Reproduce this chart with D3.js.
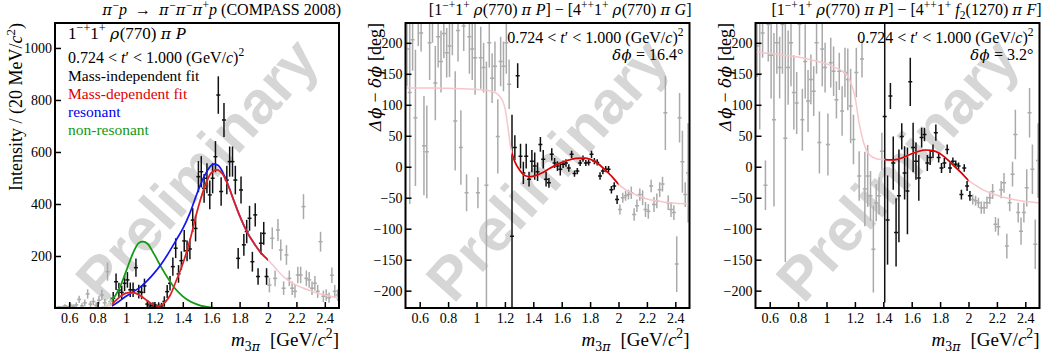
<!doctype html>
<html>
<head>
<meta charset="utf-8">
<script src="https://cdnjs.cloudflare.com/ajax/libs/d3/7.8.5/d3.min.js"></script>
<style>
  body { margin: 0; background: #fff; }
  svg { font-family: "Liberation Serif", "Times New Roman", serif; }
  text { white-space: pre; fill: #000; }
  .tick text { font-size: 14px; font-family: "Liberation Serif", serif; }
  .tick line { stroke: #000; stroke-width: 1.5; }
  .watermark { font-family: "Liberation Sans", Arial, sans-serif; font-weight: bold; fill: #d6d6d6; }
</style>
</head>
<body>
<svg width="1057" height="355"></svg>
<script>
// ---- data: [mass, value, error] ----
var intensityPoints = [
  [0.51,2,3],[0.53,4,4],[0.55,3,4],[0.57,8,6],[0.59,4,5],[0.61,10,8],[0.63,6,8],[0.65,12,10],[0.67,33,14],[0.69,8,10],
  [0.71,20,13],[0.73,54,18],[0.75,15,12],[0.77,25,15],[0.79,10,12],[0.81,30,16],[0.83,50,20],[0.85,20,15],[0.87,140,35],[0.89,25,18],
  [0.91,37,25],[0.93,101,32],[0.95,69,28],[0.97,60,26],[0.99,95,30],[1.01,108,30],[1.03,70,28],[1.05,70,28],[1.07,155,35],[1.09,63,26],
  [1.11,60,26],[1.13,85,28],[1.15,15,15],[1.17,8,12],[1.19,10,12],[1.21,5,10],[1.23,10,12],[1.25,8,12],[1.27,25,20],[1.29,63,25],
  [1.31,95,28],[1.33,159,35],[1.35,230,38],[1.37,131,34],[1.39,182,36],[1.41,258,42],[1.43,220,40],[1.45,227,40],[1.47,338,46],[1.49,306,50],
  [1.51,505,60],[1.53,524,60],[1.55,460,55],[1.57,499,58],[1.59,435,55],[1.61,499,58],[1.63,582,60],[1.65,819,72],[1.67,448,55],[1.69,723,65],
  [1.71,492,55],[1.73,563,58],[1.75,563,58],[1.77,492,55],[1.79,191,40],[1.81,454,52],[1.83,243,42],[1.85,294,45],[1.87,345,48],[1.89,178,38],
  [1.91,358,45],[1.93,121,32],[1.95,249,42],[1.97,287,44],[1.99,121,32],
  [2.01,88,28],[2.03,268,42],[2.05,114,30],[2.07,300,42],[2.09,223,40],[2.11,76,26],[2.13,204,38],[2.15,114,30],[2.17,76,26],[2.19,64,25],
  [2.21,127,32],[2.23,127,32],[2.25,390,48],[2.27,114,30],[2.29,108,30],[2.31,76,26],[2.33,95,28],[2.35,64,25],[2.37,255,38],[2.39,45,22],
  [2.41,50,22],[2.43,40,20],[2.45,126,30],[2.47,64,25],[2.49,50,22]
];

var phaseGPoints = [
  [0.51,190,60],[0.53,120,180],[0.55,205,50],[0.57,79,110],[0.59,245,50],[0.61,216,30],[0.63,34,80],[0.65,24,75],[0.67,200,60],[0.69,240,40],
  [0.71,135,60],[0.73,210,50],[0.75,170,50],[0.77,215,40],[0.79,184,40],[0.81,195,50],[0.83,240,60],[0.85,74,80],[0.87,220,50],[0.89,31,60],
  [0.91,227,40],[0.93,-42,30],[0.95,210,60],[0.97,190,50],[0.99,176,60],[1.01,-42,25],[1.03,176,50],[1.05,160,40],[1.07,-30,200],[1.09,200,40],
  [1.11,143,40],[1.13,162,40],[1.15,49,60],[1.17,170,40],[1.19,162,40],[1.21,200,50],[1.23,133,40],
  [1.25,-112,196],[1.27,31,20],[1.29,147,20],[1.31,17,20],[1.33,-10,18],[1.35,17,20],[1.37,-20,12],[1.39,9,18],[1.41,1,22],[1.43,-8,15],
  [1.45,36,12],[1.47,12,15],[1.49,-20,12],[1.51,-26,8],[1.53,20,10],[1.55,6,8],[1.57,1,8],[1.59,-4,10],[1.61,4,6],[1.63,6,6],
  [1.65,-2,6],[1.67,20,6],[1.69,-11,5],[1.71,-7,5],[1.73,6,5],[1.75,13,5],[1.77,6,5],[1.79,7,5],[1.81,20,6],[1.83,9,5],
  [1.85,7,5],[1.87,-15,6],[1.89,-7,5],[1.91,-4,5],[1.93,-4,5],[1.95,-37,6],[1.97,-31,6],[1.99,-53,7],
  [2.01,-69,8],[2.03,-50,8],[2.05,-47,8],[2.07,-45,8],[2.09,-42,10],[2.11,-77,10],[2.13,-63,10],[2.15,-45,10],[2.17,-50,12],[2.19,-69,12],
  [2.21,-72,12],[2.23,-31,10],[2.25,-61,12],[2.27,-55,12],[2.29,-37,12],[2.31,-28,12],[2.33,87,60],[2.35,-58,12],[2.37,-69,12],[2.39,-74,12],
  [2.41,-157,45],[2.43,79,40],[2.45,8,50],[2.47,-45,20],[2.49,-10,80]
];

var phaseFPoints = [
  [0.51,195,50],[0.53,150,90],[0.55,216,40],[0.57,-30,40],[0.59,230,60],[0.61,180,70],[0.63,76,140],[0.65,200,50],[0.67,160,50],[0.69,230,80],
  [0.71,46,200],[0.73,160,60],[0.75,200,70],[0.77,120,60],[0.79,103,50],[0.81,230,50],[0.83,76,50],[0.85,170,60],[0.87,106,50],[0.89,141,40],
  [0.91,122,40],[0.93,200,50],[0.95,39,50],[0.97,190,60],[0.99,160,40],[1.01,36,50],[1.03,168,40],[1.05,154,40],[1.07,108,30],[1.09,154,30],
  [1.11,90,40],[1.13,152,40],[1.15,141,50],[1.17,98,60],[1.19,44,40],[1.21,152,40],[1.23,-15,40],[1.25,174,30],[1.27,-36,60],[1.29,-15,50],
  [1.31,-47,40],[1.33,-133,70],[1.35,-58,30],[1.37,-47,30],[1.39,25,30],
  [1.41,81,300],[1.43,-86,72],[1.45,114,21],[1.47,6,43],[1.49,-106,55],[1.51,-47,75],[1.53,49,21],[1.55,-10,43],[1.57,-39,70],[1.59,137,39],
  [1.61,31,40],[1.63,9,30],[1.65,-18,37],[1.67,47,16],[1.69,52,11],[1.71,6,13],[1.73,15,12],[1.75,25,11],[1.77,55,13],[1.79,15,8],
  [1.81,-2,8],[1.83,6,8],[1.85,28,8],[1.87,-2,8],[1.89,9,6],[1.91,4,6],[1.93,1,6],[1.95,-45,8],[1.97,-2,6],[1.99,-31,8],[2.01,-47,8],
  [2.03,-53,8],[2.05,-55,8],[2.07,-58,8],[2.09,-66,10],[2.11,-66,10],[2.13,-58,10],[2.15,-50,10],[2.17,-40,12],[2.19,-93,12],[2.21,-97,14],
  [2.23,-37,14],[2.25,-26,16],[2.27,-128,20],[2.29,-58,14],[2.31,-12,20],[2.33,52,40],[2.35,-74,16],[2.37,-104,22],[2.39,-74,16],[2.41,-34,30],
  [2.43,87,40],[2.45,-4,40],[2.47,-125,40],[2.49,10,60]
];

// ---- fit curves: [mass, value] ----
var intensityTotal = [[0.82,1],[0.86,5],[0.90,15],[0.95,40],[1.00,57],[1.04,60],[1.10,48],[1.15,28],[1.20,10],[1.23,7],[1.27,20],
  [1.31,48],[1.35,100],[1.40,170],[1.45,260],[1.50,370],[1.55,460],[1.60,520],[1.64,531],[1.68,515],[1.72,470],[1.76,412],
  [1.80,355],[1.85,295],[1.90,250],[1.95,212],[2.00,185],[2.05,155],[2.10,125],[2.15,103],[2.20,88],[2.25,76],[2.30,66],
  [2.35,57],[2.40,50],[2.45,44],[2.50,38]];
var intensityResonant = [[0.90,8],[0.95,25],[1.00,45],[1.05,62],[1.10,80],[1.15,105],[1.20,135],[1.25,170],[1.30,212],[1.35,258],
  [1.40,305],[1.45,365],[1.50,440],[1.55,505],[1.60,548],[1.62,553],[1.65,548],[1.70,500],[1.76,412],[1.80,355],[1.85,295],
  [1.90,250],[1.95,212],[2.00,185]];
var intensityNonResonant = [[0.78,0],[0.82,2],[0.86,10],[0.90,30],[0.95,72],[1.00,140],[1.05,212],[1.09,250],[1.12,255],[1.15,248],
  [1.20,205],[1.25,155],[1.30,110],[1.35,72],[1.40,45],[1.45,26],[1.50,14],[1.55,6],[1.60,2],[1.65,0.5],[1.80,0],[2.00,0]];
var phaseGFit = [[0.50,127],[0.60,127],[0.70,127],[0.80,126.5],[0.90,126],[1.00,125],[1.05,124],[1.10,122],[1.15,117],[1.18,108],
  [1.20,95],[1.22,66],[1.24,32],[1.25,22],[1.27,8],[1.30,-4],[1.34,-14],[1.38,-16],[1.42,-14],[1.46,-10],[1.52,-2],[1.58,5],
  [1.64,10],[1.70,13.5],[1.76,14],[1.80,12],[1.85,6],[1.90,-4],[1.95,-15],[2.00,-28],[2.05,-37],[2.10,-43],[2.15,-48],
  [2.20,-52],[2.30,-56],[2.40,-59],[2.50,-60]];
var phaseFFit = [[0.50,185],[0.60,183],[0.70,180],[0.80,177],[0.90,172],[1.00,166],[1.05,161],[1.10,156],[1.15,146],[1.18,130],
  [1.20,114],[1.23,70],[1.26,40],[1.30,20],[1.35,13],[1.41,11.5],[1.45,11],[1.50,12],[1.55,16],[1.60,21],[1.65,25],[1.70,27],
  [1.75,26],[1.80,21],[1.85,12],[1.90,1],[1.95,-10],[2.00,-22],[2.05,-30],[2.10,-37],[2.15,-42],[2.20,-46],[2.30,-52],
  [2.40,-56],[2.50,-58]];

// ---- labels ("i" italic, "g" greek font, "^" superscript, "_" subscript) ----
var waveP = ["1", ["\u2212+", "^"], "1", ["+", "^"], " ", ["\u03c1", "ig"], "(770) ", ["\u03c0", "ig"], " ", ["P", "i"]];
var tRange = ["0.724 < ", ["t", "i"], "\u2032 < 1.000 (GeV/", ["c", "i"], ")", ["2", "^"]];
var titles = [
  [["\u03c0", "ig"], ["\u2212", "^"], ["p", "i"], "  \u2192  ", ["\u03c0", "ig"], ["\u2212", "^"], ["\u03c0", "ig"], ["\u2212", "^"],
   ["\u03c0", "ig"], ["+", "^"], ["p", "i"], " (COMPASS 2008)"],
  ["["].concat(waveP, ["] \u2212 [4", ["++", "^"], "1", ["+", "^"], " ", ["\u03c1", "ig"], "(770) ", ["\u03c0", "ig"], " ", ["G", "i"], "]"]),
  ["["].concat(waveP, ["] \u2212 [4", ["++", "^"], "1", ["+", "^"], " ", ["f", "i"], ["2", "_"], "(1270) ", ["\u03c0", "ig"], " ", ["F", "i"], "]"])
];
var legendLabels = ["Mass-independent fit", "Mass-dependent fit", "resonant", "non-resonant"];
var legendColors = ["#000", "#e00000", "#0000ee", "#119911"];
var phaseOffsets = ["16.4", "3.2"];

var frameTop = 23, frameBottom = 308, frameW = 284;
var svg = d3.select("svg");

// text with italic / super / subscript pieces
function rich(g, parts, size) {
  var t = g.append("text").style("font-size", size + "px");
  var shift = 0;
  parts.forEach(function(p) {
    var str = typeof p === "string" ? p : p[0];
    var fmt = typeof p === "string" ? "" : p[1];
    var s = t.append("tspan").text(str);
    var target = 0, fs = size;
    if (fmt.indexOf("^") >= 0) { target = -0.4 * size; fs = size * 0.72; }
    if (fmt.indexOf("_") >= 0) { target = 0.25 * size; fs = size * 0.72; }
    if (fmt.indexOf("i") >= 0) s.style("font-style", "italic");
    if (fmt.indexOf("g") >= 0) s.style("font-family", "'DejaVu Serif', serif").style("letter-spacing", "0.5px");
    s.style("font-size", (fmt.indexOf("g") >= 0 ? fs * 0.92 : fs) + "px");
    if (target !== shift) { s.attr("dy", target - shift); shift = target; }
  });
  return t;
}

function drawPanel(cfg) {
  var x = d3.scaleLinear().domain([0.5, 2.5]).range([cfg.left, cfg.left + frameW]);
  var y = d3.scaleLinear().domain(cfg.yDomain).range([frameBottom, frameTop]);
  var g = svg.append("g");

  g.append("clipPath").attr("id", "clip" + cfg.id).append("rect")
    .attr("x", cfg.left).attr("y", frameTop).attr("width", frameW).attr("height", frameBottom - frameTop);
  g.append("clipPath").attr("id", "fit" + cfg.id).append("rect")
    .attr("x", x(cfg.fitRange[0])).attr("y", frameTop)
    .attr("width", x(cfg.fitRange[1]) - x(cfg.fitRange[0])).attr("height", frameBottom - frameTop);

  var cx = cfg.left + frameW / 2, cy = (frameTop + frameBottom) / 2 + 4;
  g.append("text").attr("class", "watermark")
    .attr("x", cx).attr("y", cy).attr("text-anchor", "middle").attr("dominant-baseline", "central")
    .attr("transform", "rotate(-48," + cx + "," + cy + ")")
    .style("font-size", "60px").text("Preliminary");

  var inner = g.append("g").attr("clip-path", "url(#clip" + cfg.id + ")");

  var pts = inner.selectAll("g.pt").data(cfg.points).join("g").attr("class", "pt")
    .attr("stroke", function(d) { return d[0] >= cfg.black[0] && d[0] <= cfg.black[1] ? "#111" : "#aaa"; })
    .attr("stroke-width", 1.5);
  pts.append("line")
    .attr("x1", function(d) { return x(d[0]); }).attr("x2", function(d) { return x(d[0]); })
    .attr("y1", function(d) { return y(d[1] - d[2]); }).attr("y2", function(d) { return y(d[1] + d[2]); });
  pts.append("line")
    .attr("x1", function(d) { return x(d[0]) - 2; }).attr("x2", function(d) { return x(d[0]) + 2; })
    .attr("y1", function(d) { return y(d[1]); }).attr("y2", function(d) { return y(d[1]); });

  var line = d3.line().x(function(d) { return x(d[0]); }).y(function(d) { return y(d[1]); }).curve(d3.curveMonotoneX);
  cfg.curves.forEach(function(c) {
    if (c.faint) inner.append("path").attr("d", line(c.data)).attr("fill", "none")
      .attr("stroke", c.faint).attr("stroke-width", 1.5);
    inner.append("path").attr("d", line(c.data)).attr("fill", "none")
      .attr("stroke", c.color).attr("stroke-width", 1.7).attr("stroke-opacity", c.opacity || 1)
      .attr("clip-path", "url(#fit" + cfg.id + ")");
  });

  // axes, ticks inside the frame
  var fmt = function(d) { return String(+d.toFixed(2)); };
  var ax = g.append("g").attr("transform", "translate(0," + frameBottom + ")");
  ax.call(d3.axisBottom(x).tickValues(x.ticks(40)).tickSize(-3).tickFormat(""));
  ax.call(d3.axisBottom(x).tickValues(x.ticks(10)).tickSize(-6).tickPadding(5).tickFormat(fmt));
  var ay = g.append("g").attr("transform", "translate(" + cfg.left + ",0)");
  ay.call(d3.axisLeft(y).tickValues(y.ticks(cfg.minorCount)).tickSize(-3).tickFormat(""));
  ay.call(d3.axisLeft(y).tickValues(y.ticks(cfg.majorCount).filter(function(d) { return d !== 0 || cfg.id !== 0; }))
    .tickSize(-6).tickPadding(3).tickFormat(d3.format("d")));
  g.selectAll(".domain").remove();

  g.append("rect").attr("x", cfg.left).attr("y", frameTop).attr("width", frameW)
    .attr("height", frameBottom - frameTop).attr("fill", "none").attr("stroke", "#000").attr("stroke-width", 2);

  // title, axis labels
  rich(g, cfg.title, 16).attr("x", cfg.left + frameW + 2).attr("y", 15).attr("text-anchor", "end");
  rich(g, [["m", "i"], ["3", "_"], ["\u03c0", "ig_"], "  [GeV/", ["c", "i"], ["2", "^"], "]"], 19)
    .attr("x", cfg.left + frameW).attr("y", 346).attr("text-anchor", "end");
  rich(g, cfg.yLabel, 18).attr("text-anchor", "end")
    .attr("transform", "translate(" + cfg.yLabelX + "," + frameTop + ") rotate(-90)");
  return { x: x, y: y, g: g };
}

var p0 = drawPanel({
  id: 0, left: 55, yDomain: [0, 1096], points: intensityPoints, black: [0.9, 2.0], fitRange: [0.9, 2.0],
  minorCount: 22, majorCount: 6, title: titles[0], yLabelX: 22,
  yLabel: ["Intensity / (20 MeV/", ["c", "i"], ["2", "^"], ")"],
  curves: [
    { data: intensityNonResonant, color: "#119911", faint: "#bde3bd" },
    { data: intensityResonant, color: "#1515ee", faint: null },
    { data: intensityTotal, color: "#d80000", faint: "#f6c6cc", opacity: 0.85 }
  ]
});
var phaseLabel = [["\u0394\u03d5", "ig"], " \u2212 ", ["\u03b4\u03d5", "ig"], " [deg]"];
var p1 = drawPanel({
  id: 1, left: 405.5, yDomain: [-228, 232], points: phaseGPoints, black: [1.24, 2.0], fitRange: [1.25, 2.0],
  minorCount: 46, majorCount: 10, title: titles[1], yLabelX: 381, yLabel: phaseLabel,
  curves: [{ data: phaseGFit, color: "#d80000", faint: "#f6c6cc" }]
});
var p2 = drawPanel({
  id: 2, left: 755.5, yDomain: [-228, 232], points: phaseFPoints, black: [1.40, 2.02], fitRange: [1.41, 2.0],
  minorCount: 46, majorCount: 10, title: titles[2], yLabelX: 731, yLabel: phaseLabel,
  curves: [{ data: phaseFFit, color: "#d80000", faint: "#f6c6cc" }]
});

// in-frame text
rich(p0.g, waveP, 17).attr("x", 68).attr("y", 39);
rich(p0.g, tRange, 16).attr("x", 68).attr("y", 62.5);
legendLabels.forEach(function(s, i) {
  p0.g.append("text").attr("x", 68).attr("y", 80.5 + i * 18.2).style("font-size", "15.5px")
    .style("fill", legendColors[i]).text(s);
});
[p1, p2].forEach(function(p, i) {
  var xr = p.x.range()[1] - 6;
  rich(p.g, tRange, 16).attr("x", xr).attr("y", 42.5).attr("text-anchor", "end");
  rich(p.g, [["\u03b4\u03d5", "ig"], " = " + phaseOffsets[i] + "\u00b0"], 16).attr("x", xr).attr("y", 60).attr("text-anchor", "end");
});
</script>
</body>
</html>
